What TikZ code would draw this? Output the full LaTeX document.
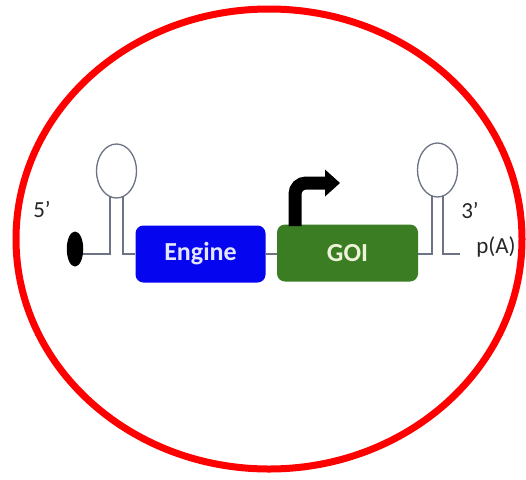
\documentclass[tikz,border=0pt]{standalone}
\usepackage{fontspec}
\setmainfont{Carlito}
\usetikzlibrary{shapes.geometric}
\begin{document}
\begin{tikzpicture}[x=1pt,y=-1pt,
  boxstyle/.style={rounded corners=8pt, inner sep=0pt, font=\fontsize{26}{30}\selectfont\bfseries},
  stem/.style={draw=stemcol, line width=1.5pt},
  lbl/.style={text=labcol, inner sep=0pt, font=\fontsize{23}{26}\selectfont}]
\definecolor{stemcol}{HTML}{6B7384}
\definecolor{labcol}{HTML}{262626}
\definecolor{engblue}{HTML}{0505F0}
\definecolor{goigreen}{HTML}{3B7D23}
\definecolor{goitext}{HTML}{EEF2D8}
\definecolor{engtext}{HTML}{E4E6FF}
\useasboundingbox (0,0) rectangle (526,479);
\fill[white] (0,0) rectangle (526,479);
% outer red ellipse
\draw[red, line width=7pt] (269,239) ellipse [x radius=253, y radius=230];
% boxes
\node[boxstyle, fill=engblue, text=engtext, minimum width=130pt, minimum height=57pt] (engine) at (200.5,254) {Engine};
\node[boxstyle, fill=goigreen, text=goitext, minimum width=141pt, minimum height=57pt] (goi) at (347.5,253) {GOI};
% cap
\node[fill=black, ellipse, inner sep=0pt, minimum width=16.5pt, minimum height=35pt, draw=none] (cap) at (75,249) {};
% left hairpin
\coordinate (l1) at (110,254);
\coordinate (l2) at (123,254);
\node[draw=stemcol, line width=1.3pt, ellipse, inner sep=0pt, minimum width=40pt, minimum height=54pt] (lloop) at (116.5,171) {};
\draw[stem] (cap.east |- l1) -- (l1) -- (110,196.5);
\draw[stem] (123,196.5) -- (l2) -- (engine.west);
\draw[stem] (engine.east) -- (goi.west |- engine.east);
% right hairpin
\coordinate (r1) at (432,254);
\coordinate (r2) at (443,254);
\coordinate (rend) at (460,254);
\node[draw=stemcol, line width=1.3pt, ellipse, inner sep=0pt, minimum width=40pt, minimum height=54pt] (rloop) at (437.5,170) {};
\draw[stem] (goi.east |- r1) -- (r1) -- (432,195.5);
\draw[stem] (443,195.5) -- (r2) -- (rend);
% promoter arrow
\coordinate (arrtip) at (340,183);
\draw[black, line width=13pt, rounded corners=11pt] (295,226) |- (327,183);
\fill[black] (325,169.5) -- (arrtip) -- (325,196.5) -- cycle;
% labels
\node[lbl] (five) at (42,209) {5’};
\node[lbl] (three) at (470,210) {3’};
\node[lbl] (pa) at (496,247) {p(A)};
\end{tikzpicture}
\end{document}
